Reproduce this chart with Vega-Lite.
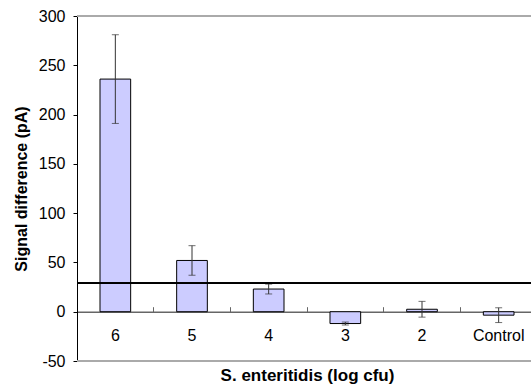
{
  "$schema": "https://vega.github.io/schema/vega-lite/v6.json",
  "width": 460,
  "height": 345,
  "autosize": {"type": "none"},
  "padding": {"left": 77, "top": 16, "right": 0, "bottom": 26},
  "config": {
    "view": {"stroke": null},
    "font": "Liberation Sans"
  },
  "data": {
    "values": [
      {"g": "6", "v": 236, "lo": 191, "hi": 281},
      {"g": "5", "v": 52, "lo": 37, "hi": 67},
      {"g": "4", "v": 23, "lo": 18, "hi": 28},
      {"g": "3", "v": -12, "lo": -13.5, "hi": -10.5},
      {"g": "2", "v": 2.5, "lo": -5.5, "hi": 10.5},
      {"g": "Control", "v": -3.5, "lo": -11, "hi": 4}
    ]
  },
  "encoding": {
    "x": {
      "field": "g", "type": "nominal", "sort": null,
      "scale": {"paddingInner": 0.6, "paddingOuter": 0.3},
      "axis": {
        "title": "S. enteritidis (log cfu)",
        "titleFont": "Liberation Sans", "titleFontSize": 17, "titleFontWeight": "bold", "titleColor": "#000",
        "titlePadding": 24,
        "labelAngle": 0, "labelFontSize": 16, "labelColor": "#000", "labelFont": "Liberation Sans",
        "offset": -49.3,
        "domainColor": "#666", "domainWidth": 1.5,
        "tickColor": "#666", "tickSize": -5, "tickWidth": 1,
        "bandPosition": 1.76,
        "labelPadding": 21
      }
    }
  },
  "layer": [
    {
      "mark": {"type": "rule", "color": "#aaa", "strokeWidth": 1.5},
      "encoding": {"y": {"datum": 300, "type": "quantitative"}, "x": null}
    },
    {
      "mark": {"type": "rule", "color": "#aaa", "strokeWidth": 1.5},
      "encoding": {"y": {"datum": -50, "type": "quantitative"}, "x": null}
    },
    {
      "mark": {"type": "bar", "fill": "#ccccff", "stroke": "#000", "strokeWidth": 1},
      "encoding": {
        "y": {
          "field": "v", "type": "quantitative",
          "scale": {"domain": [-50, 300], "nice": false, "zero": false},
          "axis": {
            "values": [-50, 0, 50, 100, 150, 200, 250, 300],
            "labelExpr": "'' + datum.value",
            "title": "Signal difference (pA)",
            "titleFont": "Liberation Sans", "titleFontSize": 16, "titleFontWeight": "bold", "titleColor": "#000",
            "titlePadding": 9,
            "labelFontSize": 16, "labelColor": "#000", "labelFont": "Liberation Sans",
            "labelPadding": 8,
            "domainColor": "#000", "domainWidth": 1,
            "tickColor": "#000", "tickSize": 4,
            "grid": false
          }
        },
        "y2": {"datum": 0}
      }
    },
    {
      "mark": {"type": "rule", "color": "#333", "strokeWidth": 1},
      "encoding": {"y": {"field": "lo", "type": "quantitative"}, "y2": {"field": "hi"}}
    },
    {
      "mark": {"type": "tick", "color": "#333", "size": 7, "thickness": 1},
      "encoding": {"y": {"field": "lo", "type": "quantitative"}}
    },
    {
      "mark": {"type": "tick", "color": "#333", "size": 7, "thickness": 1},
      "encoding": {"y": {"field": "hi", "type": "quantitative"}}
    },
    {
      "mark": {"type": "rule", "color": "#000", "strokeWidth": 1.5},
      "encoding": {"y": {"datum": 28.8, "type": "quantitative"}, "x": null}
    }
  ]
}
